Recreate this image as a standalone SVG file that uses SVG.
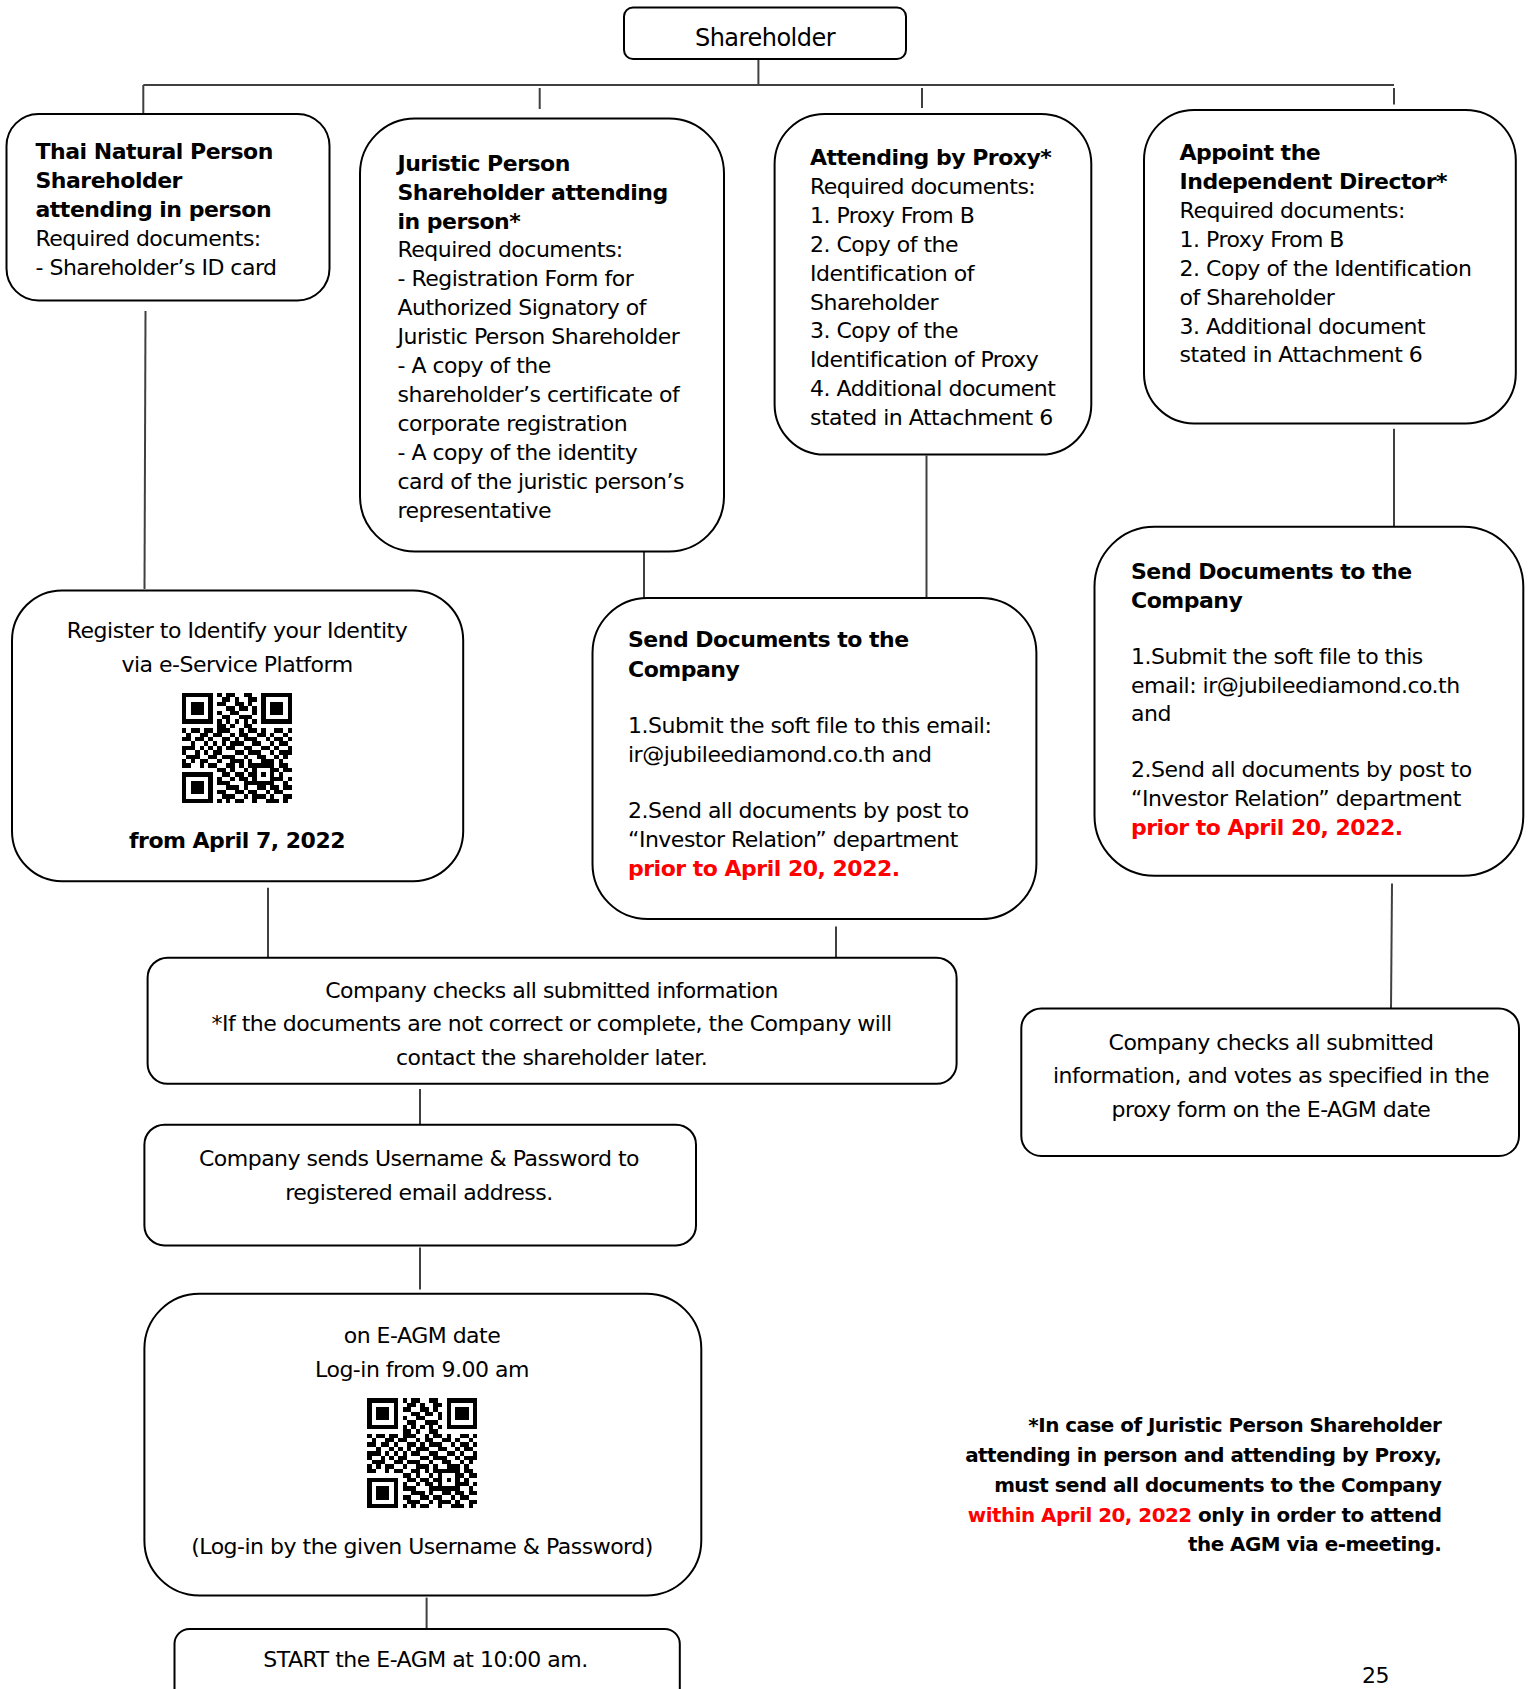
<svg xmlns="http://www.w3.org/2000/svg" width="1533" height="1689" viewBox="0 0 1533 1689">
<style>
.box{fill:#fff;stroke:#000;stroke-width:2}
.t{font-family:"DejaVu Sans",Verdana,sans-serif;font-size:22px;letter-spacing:-0.5px;fill:#000}
.b{font-weight:bold}
.r{fill:#ff0000;font-weight:bold}
.c{text-anchor:middle}
.e{text-anchor:end}
.conn{stroke:#404040;stroke-width:2;fill:none}
.qr{fill:#000}
</style>
<defs>
<path id="qr" class="qr" shape-rendering="crispEdges" d="M0 0h7v1h-7zM8 0h1v1h-1zM10 0h2v1h-2zM14 0h2v1h-2zM18 0h7v1h-7zM0 1h1v1h-1zM6 1h1v1h-1zM9 1h2v1h-2zM12 1h1v1h-1zM15 1h2v1h-2zM18 1h1v1h-1zM24 1h1v1h-1zM0 2h1v1h-1zM2 2h3v1h-3zM6 2h1v1h-1zM8 2h2v1h-2zM12 2h2v1h-2zM15 2h1v1h-1zM18 2h1v1h-1zM20 2h3v1h-3zM24 2h1v1h-1zM0 3h1v1h-1zM2 3h3v1h-3zM6 3h1v1h-1zM10 3h2v1h-2zM13 3h2v1h-2zM16 3h1v1h-1zM18 3h1v1h-1zM20 3h3v1h-3zM24 3h1v1h-1zM0 4h1v1h-1zM2 4h3v1h-3zM6 4h1v1h-1zM8 4h1v1h-1zM11 4h2v1h-2zM16 4h1v1h-1zM18 4h1v1h-1zM20 4h3v1h-3zM24 4h1v1h-1zM0 5h1v1h-1zM6 5h1v1h-1zM9 5h2v1h-2zM13 5h3v1h-3zM18 5h1v1h-1zM24 5h1v1h-1zM0 6h7v1h-7zM8 6h1v1h-1zM10 6h1v1h-1zM12 6h1v1h-1zM14 6h1v1h-1zM16 6h1v1h-1zM18 6h7v1h-7zM8 7h2v1h-2zM11 7h1v1h-1zM14 7h2v1h-2zM0 8h1v1h-1zM2 8h2v1h-2zM5 8h2v1h-2zM8 8h3v1h-3zM13 8h1v1h-1zM15 8h2v1h-2zM18 8h1v1h-1zM21 8h2v1h-2zM24 8h1v1h-1zM1 9h1v1h-1zM4 9h2v1h-2zM7 9h2v1h-2zM11 9h1v1h-1zM13 9h2v1h-2zM17 9h2v1h-2zM20 9h1v1h-1zM23 9h1v1h-1zM0 10h2v1h-2zM3 10h2v1h-2zM6 10h1v1h-1zM9 10h2v1h-2zM12 10h1v1h-1zM14 10h3v1h-3zM19 10h1v1h-1zM21 10h2v1h-2zM24 10h1v1h-1zM2 11h1v1h-1zM5 11h1v1h-1zM7 11h1v1h-1zM9 11h1v1h-1zM11 11h3v1h-3zM16 11h2v1h-2zM20 11h1v1h-1zM22 11h2v1h-2zM0 12h3v1h-3zM4 12h1v1h-1zM6 12h1v1h-1zM8 12h1v1h-1zM10 12h2v1h-2zM14 12h2v1h-2zM18 12h2v1h-2zM21 12h1v1h-1zM24 12h1v1h-1zM0 13h1v1h-1zM3 13h1v1h-1zM5 13h1v1h-1zM7 13h2v1h-2zM12 13h2v1h-2zM15 13h3v1h-3zM20 13h1v1h-1zM22 13h3v1h-3zM1 14h3v1h-3zM6 14h2v1h-2zM9 14h3v1h-3zM14 14h1v1h-1zM17 14h2v1h-2zM21 14h1v1h-1zM23 14h1v1h-1zM0 15h1v1h-1zM2 15h1v1h-1zM4 15h2v1h-2zM8 15h1v1h-1zM11 15h3v1h-3zM15 15h1v1h-1zM18 15h3v1h-3zM22 15h1v1h-1zM0 16h2v1h-2zM4 16h1v1h-1zM6 16h2v1h-2zM10 16h2v1h-2zM13 16h1v1h-1zM15 16h6v1h-6zM22 16h2v1h-2zM8 17h2v1h-2zM11 17h1v1h-1zM14 17h1v1h-1zM16 17h1v1h-1zM20 17h2v1h-2zM23 17h2v1h-2zM0 18h7v1h-7zM9 18h2v1h-2zM12 18h2v1h-2zM15 18h2v1h-2zM18 18h1v1h-1zM20 18h1v1h-1zM22 18h1v1h-1zM0 19h1v1h-1zM6 19h1v1h-1zM8 19h1v1h-1zM11 19h1v1h-1zM13 19h2v1h-2zM16 19h1v1h-1zM20 19h3v1h-3zM24 19h1v1h-1zM0 20h1v1h-1zM2 20h3v1h-3zM6 20h1v1h-1zM8 20h3v1h-3zM14 20h7v1h-7zM23 20h1v1h-1zM0 21h1v1h-1zM2 21h3v1h-3zM6 21h1v1h-1zM10 21h3v1h-3zM14 21h1v1h-1zM17 21h2v1h-2zM20 21h2v1h-2zM23 21h2v1h-2zM0 22h1v1h-1zM2 22h3v1h-3zM6 22h1v1h-1zM8 22h2v1h-2zM12 22h2v1h-2zM15 22h2v1h-2zM19 22h1v1h-1zM21 22h2v1h-2zM0 23h1v1h-1zM6 23h1v1h-1zM9 23h3v1h-3zM14 23h1v1h-1zM16 23h3v1h-3zM20 23h1v1h-1zM23 23h2v1h-2zM0 24h7v1h-7zM8 24h1v1h-1zM10 24h1v1h-1zM12 24h2v1h-2zM16 24h1v1h-1zM19 24h3v1h-3zM23 24h1v1h-1z"/>
</defs>
<rect width="1533" height="1689" fill="#fff"/>
<g id="connectors">
<line class="conn" x1="758.4" y1="59" x2="758.4" y2="85"/>
<line class="conn" x1="143.3" y1="85" x2="1394" y2="85"/>
<line class="conn" x1="143.3" y1="85" x2="143.3" y2="114"/>
<line class="conn" x1="539.7" y1="88" x2="539.7" y2="109"/>
<line class="conn" x1="922" y1="88" x2="922" y2="108"/>
<line class="conn" x1="1394" y1="88" x2="1394" y2="104.5"/>
<line class="conn" x1="145.5" y1="311" x2="144.5" y2="589"/>
<line class="conn" x1="644" y1="551.6" x2="644" y2="598"/>
<line class="conn" x1="926.5" y1="455.5" x2="926.5" y2="598"/>
<line class="conn" x1="1394" y1="428.8" x2="1394" y2="526.8"/>
<line class="conn" x1="268" y1="887.7" x2="268" y2="957.7"/>
<line class="conn" x1="836" y1="926.5" x2="836" y2="957.7"/>
<line class="conn" x1="1392" y1="883.4" x2="1391" y2="1008.4"/>
<line class="conn" x1="420" y1="1089" x2="420" y2="1125"/>
<line class="conn" x1="420" y1="1247.5" x2="420" y2="1289.5"/>
<line class="conn" x1="426.6" y1="1597.6" x2="426.6" y2="1629"/>
</g>
<g id="shareholder">
<rect class="box" x="624" y="7.5" width="282" height="51.5" rx="9"/>
<text class="t c" x="765" y="46" style="font-size:24px">Shareholder</text>
</g>
<g id="thai-natural-person">
<rect class="box" x="6.5" y="114" width="323" height="186.5" rx="32"/>
<text class="t" x="35.5"><tspan class="b" x="35.5" y="158.8">Thai Natural Person</tspan><tspan class="b" x="35.5" y="187.9">Shareholder</tspan><tspan class="b" x="35.5" y="217">attending in person</tspan><tspan x="35.5" y="246.1">Required documents:</tspan><tspan x="35.5" y="275.2">- Shareholder’s ID card</tspan></text>
</g>
<g id="juristic-person">
<rect class="box" x="360" y="118.5" width="364" height="433" rx="55"/>
<text class="t"><tspan class="b" x="397.5" y="170.7">Juristic Person</tspan><tspan class="b" x="397.5" y="199.6">Shareholder attending</tspan><tspan class="b" x="397.5" y="228.5">in person*</tspan><tspan x="397.5" y="257.4">Required documents:</tspan><tspan x="397.5" y="286.3">- Registration Form for</tspan><tspan x="397.5" y="315.2">Authorized Signatory of</tspan><tspan x="397.5" y="344.1">Juristic Person Shareholder</tspan><tspan x="397.5" y="373">- A copy of the</tspan><tspan x="397.5" y="401.9">shareholder’s certificate of</tspan><tspan x="397.5" y="430.8">corporate registration</tspan><tspan x="397.5" y="459.7">- A copy of the identity</tspan><tspan x="397.5" y="488.6">card of the juristic person’s</tspan><tspan x="397.5" y="517.5">representative</tspan></text>
</g>
<g id="attending-by-proxy">
<rect class="box" x="774.6" y="114" width="316.7" height="340.6" rx="50"/>
<text class="t"><tspan class="b" x="810" y="165.3">Attending by Proxy*</tspan><tspan x="810" y="194.2">Required documents:</tspan><tspan x="810" y="223">1. Proxy From B</tspan><tspan x="810" y="251.9">2. Copy of the</tspan><tspan x="810" y="280.7">Identification of</tspan><tspan x="810" y="309.6">Shareholder</tspan><tspan x="810" y="338.4">3. Copy of the</tspan><tspan x="810" y="367.3">Identification of Proxy</tspan><tspan x="810" y="396.1">4. Additional document</tspan><tspan x="810" y="425">stated in Attachment 6</tspan></text>
</g>
<g id="independent-director">
<rect class="box" x="1144" y="110" width="371.8" height="313.4" rx="50"/>
<text class="t"><tspan class="b" x="1179.6" y="159.9">Appoint the</tspan><tspan class="b" x="1179.6" y="188.8">Independent Director*</tspan><tspan x="1179.6" y="217.8">Required documents:</tspan><tspan x="1179.6" y="246.7">1. Proxy From B</tspan><tspan x="1179.6" y="275.6">2. Copy of the Identification</tspan><tspan x="1179.6" y="304.6">of Shareholder</tspan><tspan x="1179.6" y="333.5">3. Additional document</tspan><tspan x="1179.6" y="362.4">stated in Attachment 6</tspan></text>
</g>
<g id="register-identity">
<rect class="box" x="12" y="590.4" width="451.2" height="290.8" rx="50"/>
<text class="t c"><tspan x="237" y="638.2">Register to Identify your Identity</tspan><tspan x="237" y="671.6">via e-Service Platform</tspan></text>
<use href="#qr" transform="translate(182 693) scale(4.4)"/>
<text class="t c b" x="237" y="848.3">from April 7, 2022</text>
</g>
<g id="send-documents-middle">
<rect class="box" x="592.5" y="598" width="443.9" height="321" rx="55"/>
<text class="t"><tspan class="b" x="628" y="646.8">Send Documents to the</tspan><tspan class="b" x="628" y="677">Company</tspan><tspan x="628" y="733">1.Submit the soft file to this email:</tspan><tspan x="628" y="762.1">ir@jubileediamond.co.th and</tspan><tspan x="628" y="818.1">2.Send all documents by post to</tspan><tspan x="628" y="847.2">“Investor Relation” department</tspan><tspan class="r" x="628" y="876.3">prior to April 20, 2022.</tspan></text>
</g>
<g id="send-documents-right">
<rect class="box" x="1094.5" y="526.8" width="428.8" height="349" rx="60"/>
<text class="t"><tspan class="b" x="1131" y="579">Send Documents to the</tspan><tspan class="b" x="1131" y="608">Company</tspan><tspan x="1131" y="664.1">1.Submit the soft file to this</tspan><tspan x="1131" y="693.2">email: ir@jubileediamond.co.th</tspan><tspan x="1131" y="721.2">and</tspan><tspan x="1131" y="777.2">2.Send all documents by post to</tspan><tspan x="1131" y="806.3">“Investor Relation” department</tspan><tspan class="r" x="1131" y="835.4">prior to April 20, 2022.</tspan></text>
</g>
<g id="company-checks">
<rect class="box" x="147.6" y="957.7" width="809" height="126.1" rx="20"/>
<text class="t c"><tspan x="551.6" y="998">Company checks all submitted information</tspan><tspan x="551.6" y="1031.4">*If the documents are not correct or complete, the Company will</tspan><tspan x="551.6" y="1064.8">contact the shareholder later.</tspan></text>
</g>
<g id="company-checks-votes">
<rect class="box" x="1021.3" y="1008.4" width="497.7" height="147.6" rx="20"/>
<text class="t c"><tspan x="1271" y="1049.8">Company checks all submitted</tspan><tspan x="1271" y="1083.2">information, and votes as specified in the</tspan><tspan x="1271" y="1116.5">proxy form on the E-AGM date</tspan></text>
</g>
<g id="username-password">
<rect class="box" x="144.4" y="1124.7" width="551.6" height="120.7" rx="20"/>
<text class="t c"><tspan x="419" y="1166.1">Company sends Username &amp; Password to</tspan><tspan x="419" y="1199.5">registered email address.</tspan></text>
</g>
<g id="e-agm-login">
<rect class="box" x="144.4" y="1293.8" width="556.9" height="301.7" rx="55"/>
<text class="t c"><tspan x="422" y="1342.8">on E-AGM date</tspan><tspan x="422" y="1377.2">Log-in from 9.00 am</tspan></text>
<use href="#qr" transform="translate(367.4 1398.3) scale(4.4)"/>
<text class="t c" x="422" y="1553.9">(Log-in by the given Username &amp; Password)</text>
</g>
<g id="start-e-agm">
<rect class="box" x="174.5" y="1629" width="505.3" height="90" rx="15"/>
<text class="t c" x="425.5" y="1667">START the E-AGM at 10:00 am.</text>
</g>
<g id="footnote">
<text class="t b e" style="font-size:19.9px"><tspan x="1441.4" y="1432.3">*In case of Juristic Person Shareholder</tspan><tspan x="1441.4" y="1462.4">attending in person and attending by Proxy,</tspan><tspan x="1441.4" y="1491.5">must send all documents to the Company</tspan><tspan x="1441.4" y="1521.7"><tspan class="r">within April 20, 2022</tspan> only in order to attend</tspan><tspan x="1441.4" y="1550.8">the AGM via e-meeting.</tspan></text>
</g>
<g id="page-number">
<text class="t" x="1362" y="1683">25</text>
</g>
</svg>
